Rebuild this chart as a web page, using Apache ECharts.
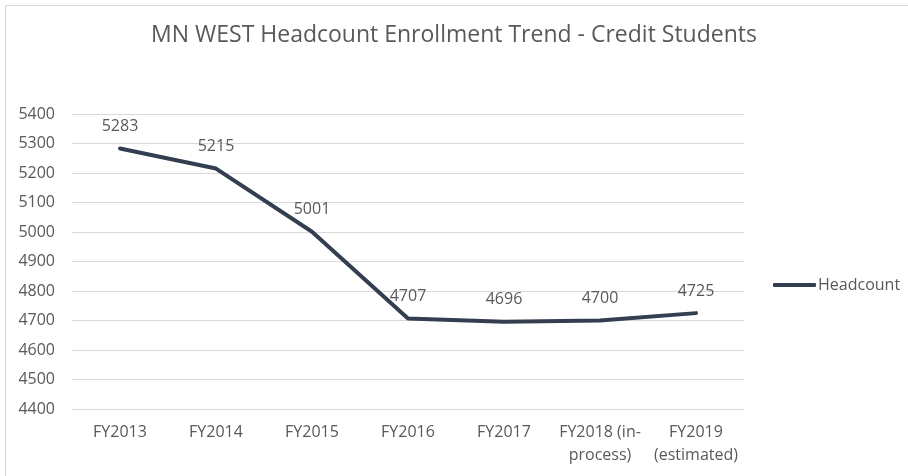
<!DOCTYPE html>
<html>
<head>
<meta charset="utf-8">
<script src="https://cdn.jsdelivr.net/npm/echarts@6/dist/echarts.min.js"></script>
<style>
  html, body { margin: 0; padding: 0; background: #fff; }
  #chart { width: 908px; height: 476px; }
</style>
</head>
<body>
<div id="chart"></div>
<script>
// data
var categories = ['FY2013', 'FY2014', 'FY2015', 'FY2016', 'FY2017', 'FY2018 (in-\nprocess)', 'FY2019\n(estimated)'];
var headcount = [5283, 5215, 5001, 4707, 4696, 4700, 4725];
var yTicks = { min: 4400, max: 5400, step: 100 };

var chartDom = document.getElementById('chart');
var myChart = echarts.init(chartDom);
var font = '"Open Sans", sans-serif';
var grey = '#595959';

var option = {
  animation: false,
  backgroundColor: '#fff',
  textStyle: { fontFamily: font },
  title: {
    text: 'MN WEST Headcount Enrollment Trend - Credit Students',
    left: 'center',
    top: 19,
    textStyle: { fontFamily: font, fontSize: 23, fontWeight: 'normal', color: grey }
  },
  graphic: [{
    type: 'rect',
    shape: { x: 5.5, y: 5.5, width: 1000, height: 1000 },
    style: { fill: 'none', stroke: '#d9d9d9', lineWidth: 1 },
    silent: true
  }],
  legend: {
    left: 773,
    top: 277,
    padding: 0,
    icon: 'roundRect',
    itemWidth: 43,
    itemHeight: 4,
    textStyle: { fontFamily: font, fontSize: 16, color: grey, padding: [0, 0, 0, -3] },
    data: ['Headcount']
  },
  grid: { left: 72, right: 164, top: 114, bottom: 67 },
  xAxis: {
    type: 'category',
    data: categories,
    axisLine: { lineStyle: { color: '#d9d9d9' } },
    axisTick: { show: false },
    axisLabel: { fontFamily: font, fontSize: 16, color: grey, margin: 12, lineHeight: 23, interval: 0 }
  },
  yAxis: {
    type: 'value',
    min: yTicks.min,
    max: yTicks.max,
    interval: yTicks.step,
    axisLine: { show: false },
    axisTick: { show: false },
    axisLabel: { fontFamily: font, fontSize: 16, color: grey, margin: 17, formatter: function (v) { return String(v); } },
    splitLine: { lineStyle: { color: '#d9d9d9', width: 1 } }
  },
  series: [{
    name: 'Headcount',
    type: 'line',
    data: headcount,
    showSymbol: true,
    symbol: 'circle',
    symbolSize: 0,
    lineStyle: { color: '#333f50', width: 4, cap: 'round', join: 'round' },
    itemStyle: { color: '#333f50' },
    label: {
      show: true,
      position: 'top',
      distance: 14,
      fontFamily: font,
      fontSize: 16,
      color: grey
    }
  }]
};

myChart.setOption(option);
</script>
</body>
</html>
